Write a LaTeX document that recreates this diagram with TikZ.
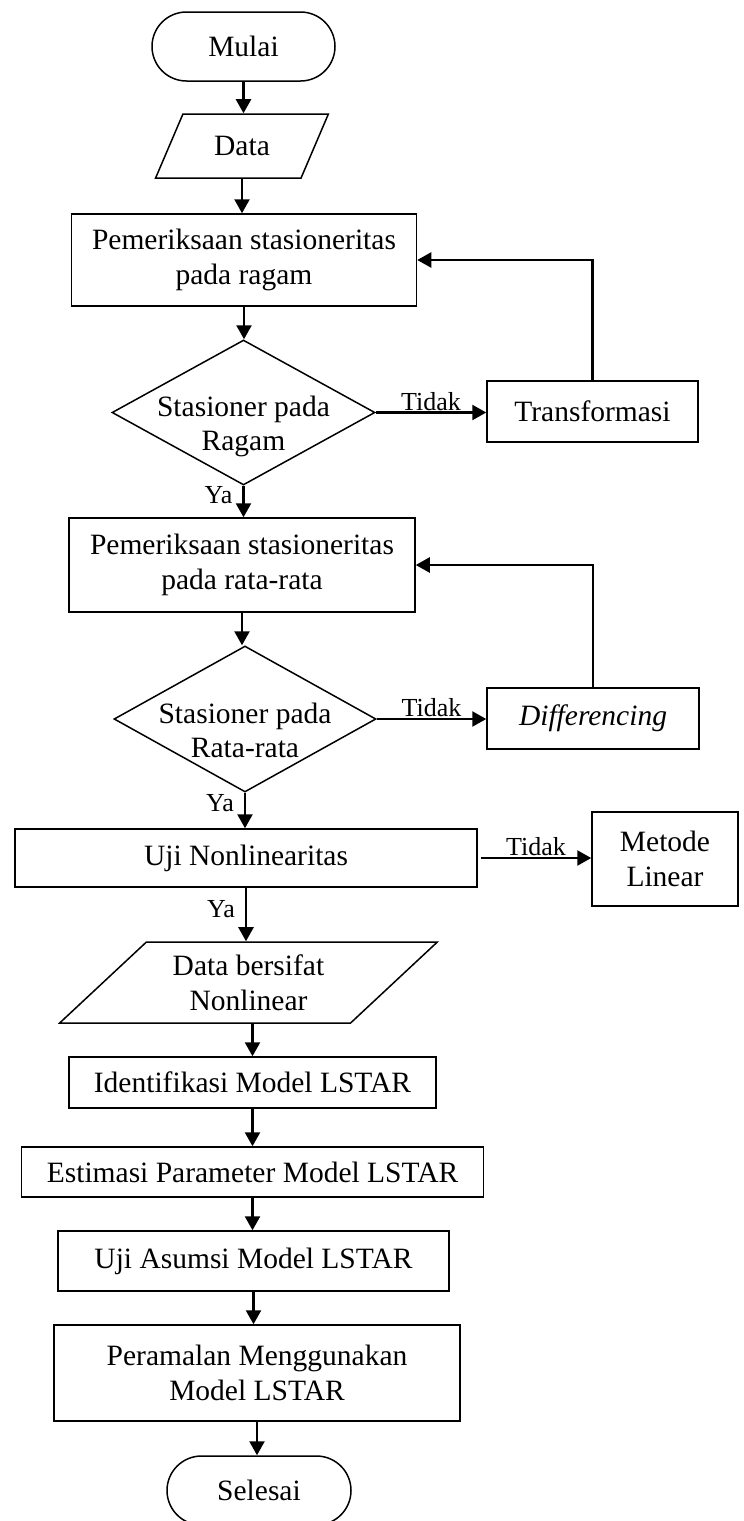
\documentclass[tikz,border=0pt]{standalone}
\usepackage{fontspec}
\setmainfont{Liberation Serif}
\usetikzlibrary{shapes.geometric,shapes.misc,arrows.meta}

\tikzset{
  base/.style={draw, line width=1.5pt, align=center, inner sep=0pt,
    font=\fontsize{29.5}{35}\selectfont},
  proses/.style={base, rectangle},
  terminal/.style={base, rounded rectangle},
  masukan/.style={base, trapezium, trapezium stretches=true},
  keputusan/.style={base, diamond},
  teks/.style={align=center, inner sep=0pt, font=\fontsize{29.5}{34}\selectfont},
  ket/.style={inner sep=1pt, font=\fontsize{26}{28}\selectfont},
  panah/.style={line width=2.4pt, -{Triangle[length=14pt,width=15pt]}},
}

\begin{document}
\begin{tikzpicture}[x=1pt,y=-1pt]
\useasboundingbox (0,0) rectangle (744,1521);

% -----------------------
% Awal dan data
% -----------------------
\node[terminal, minimum width=183pt, minimum height=69pt] (mulai) at (243.5,46.5) {Mulai};
\node[masukan, trapezium left angle=56.7, trapezium right angle=123.3,
      minimum width=174pt, minimum height=64pt] (data) at (242,146) {Data};

% -----------------------
% Stasioneritas ragam
% -----------------------
\node[proses, minimum width=345pt, minimum height=92pt] (cekragam) at (244,260)
  {Pemeriksaan stasioneritas\\pada ragam};
\node[keputusan, minimum width=263pt, minimum height=145pt] (stragam) at (243.5,412.5) {};
\node[teks] (stragamteks) at (243.5,426) {Stasioner pada\\Ragam};
\node[proses, minimum width=211pt, minimum height=61pt] (transformasi) at (592.5,411.5) {Transformasi};

% -----------------------
% Stasioneritas rata-rata
% -----------------------
\node[proses, minimum width=346pt, minimum height=94pt] (cekrata) at (242,565)
  {Pemeriksaan stasioneritas\\pada rata-rata};
\node[keputusan, minimum width=262pt, minimum height=146pt] (strata) at (245,719) {};
\node[teks] (strateks) at (245,730) {Stasioner pada\\Rata-rata};
\node[proses, minimum width=212pt, minimum height=61pt] (differencing) at (593,718.5) {\textit{Differencing}};

% -----------------------
% Nonlinearitas
% -----------------------
\node[proses, minimum width=462pt, minimum height=58pt] (ujinl) at (246,858) {Uji Nonlinearitas};
\node[proses, minimum width=146pt, minimum height=94pt] (linear) at (665,859) {Metode\\Linear};
\node[masukan, trapezium left angle=41.05, trapezium right angle=138.95,
      minimum width=379pt, minimum height=81pt] (datanl) at (248.5,982.5) {Data bersifat\\Nonlinear};

% -----------------------
% Model LSTAR
% -----------------------
\node[proses, minimum width=367pt, minimum height=51pt] (identifikasi) at (252.5,1082.5) {Identifikasi Model LSTAR};
\node[proses, minimum width=462pt, minimum height=50pt] (estimasi) at (252.5,1172) {Estimasi Parameter Model LSTAR};
\node[proses, minimum width=391pt, minimum height=60pt] (asumsi) at (253.5,1261) {Uji Asumsi Model LSTAR};
\node[proses, minimum width=406pt, minimum height=96pt] (peramalan) at (257,1373)
  {Peramalan Menggunakan\\Model LSTAR};
\node[terminal, minimum width=184pt, minimum height=69pt] (selesai) at (259,1490.5) {Selesai};

% -----------------------
% Panah
% -----------------------
\draw[panah] (mulai.south) -- (mulai.south |- data.north);
\draw[panah] (data.south) -- (data.south |- cekragam.north);
\draw[panah] (cekragam.south) -- (cekragam.south |- stragam.north);
\draw[panah] (stragam.east) -- (stragam.east -| transformasi.west)
  node[midway, above, ket] {Tidak};
\draw[panah] (transformasi.north) |- (cekragam.east);
\draw[panah] (stragam.south) -- (stragam.south |- cekrata.north)
  node[pos=0.3, left=9pt, ket] {Ya};

\draw[panah] (cekrata.south) -- (cekrata.south |- strata.north);
\draw[panah] (strata.east) -- (strata.east -| differencing.west)
  node[midway, above, ket] {Tidak};
\draw[panah] (differencing.north) |- (cekrata.east);
\draw[panah] (strata.south) -- (strata.south |- ujinl.north)
  node[pos=0.3, left=9pt, ket] {Ya};

\draw[panah] ([xshift=3pt]ujinl.east) -- (ujinl.east -| linear.west)
  node[midway, above, ket] {Tidak};
\draw[panah] (ujinl.south) -- (ujinl.south |- datanl.north)
  node[pos=0.4, left=9pt, ket] {Ya};

\draw[panah] (identifikasi.north |- datanl.south) -- (identifikasi.north);
\draw[panah] (identifikasi.south) -- (identifikasi.south |- estimasi.north);
\draw[panah] (estimasi.south) -- (estimasi.south |- asumsi.north);
\draw[panah] (asumsi.south) -- (asumsi.south |- peramalan.north);
\draw[panah] (peramalan.south) -- (peramalan.south |- selesai.north);

\end{tikzpicture}
\end{document}
